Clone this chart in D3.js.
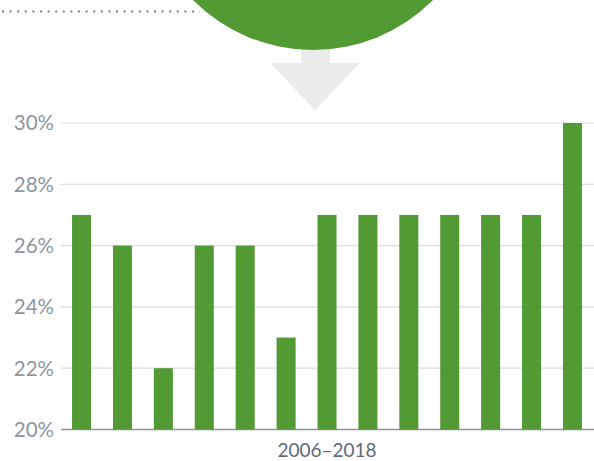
<!DOCTYPE html>
<html>
<head>
<meta charset="utf-8">
<script src="https://cdn.jsdelivr.net/npm/d3@7"></script>
<style>
  body { margin: 0; background: #fff; }
  svg { display: block; font-family: Lato, "Open Sans", sans-serif; }
</style>
</head>
<body>
<svg id="chart" width="594" height="461"></svg>
<script>
// years shown as one period on the axis
var years = ["2006", "2007", "2008", "2009", "2010", "2011", "2012",
             "2013", "2014", "2015", "2016", "2017", "2018"];
var shares = [27, 26, 22, 26, 26, 23, 27, 27, 27, 27, 27, 27, 30];
var yTicks = [20, 22, 24, 26, 28, 30];
var periodLabel = "2006\u20132018";

var svg = d3.select("#chart"),
    width = +svg.attr("width"),
    height = +svg.attr("height"),
    margin = {top: 123, right: 1, bottom: 31.5, left: 61};

var x = d3.scaleBand()
    .domain(years)
    .range([margin.left, width - margin.right])
    .paddingInner(0.535)
    .paddingOuter(0.27);

var y = d3.scaleLinear()
    .domain([20, 30])
    .range([height - margin.bottom, margin.top]);

// decoration on top: dotted line, big green circle, grey arrow
svg.append("line")
    .attr("x1", 2).attr("x2", 200)
    .attr("y1", 11.5).attr("y2", 11.5)
    .attr("stroke", "#7d7d7d")
    .attr("stroke-width", 2)
    .attr("stroke-dasharray", "2,5.6");

svg.append("path")
    .attr("d", "M301,40 L330,40 L330,63 L360,63 L315,110 L270,63 L301,63 Z")
    .attr("fill", "#ebebeb");

svg.append("circle")
    .attr("cx", 313).attr("cy", -119).attr("r", 169)
    .attr("fill", "#529a34");

// grid
var grid = svg.append("g");
grid.selectAll("line")
    .data(yTicks)
  .enter().append("line")
    .attr("x1", margin.left).attr("x2", width)
    .attr("y1", function(d) { return y(d); })
    .attr("y2", function(d) { return y(d); })
    .attr("stroke", function(d) { return d === 20 ? "#8c959f" : "#dcdde0"; })
    .attr("stroke-width", function(d) { return d === 20 ? 1.6 : 1.2; });

grid.selectAll("text")
    .data(yTicks)
  .enter().append("text")
    .attr("x", 54)
    .attr("y", function(d) { return y(d); })
    .attr("dy", "0.36em")
    .attr("text-anchor", "end")
    .attr("fill", "#8d96a0")
    .style("font-size", "20.5px")
    .text(function(d) { return d + "%"; });

// bars
svg.append("g").selectAll("rect")
    .data(shares)
  .enter().append("rect")
    .attr("x", function(d, i) { return x(years[i]); })
    .attr("y", function(d) { return y(d); })
    .attr("width", x.bandwidth())
    .attr("height", function(d) { return y(20) - y(d); })
    .attr("fill", "#529a34");

svg.append("text")
    .attr("x", 327)
    .attr("y", 457)
    .attr("text-anchor", "middle")
    .attr("fill", "#5e6a77")
    .style("font-size", "19px")
    .text(periodLabel);
</script>
</body>
</html>
